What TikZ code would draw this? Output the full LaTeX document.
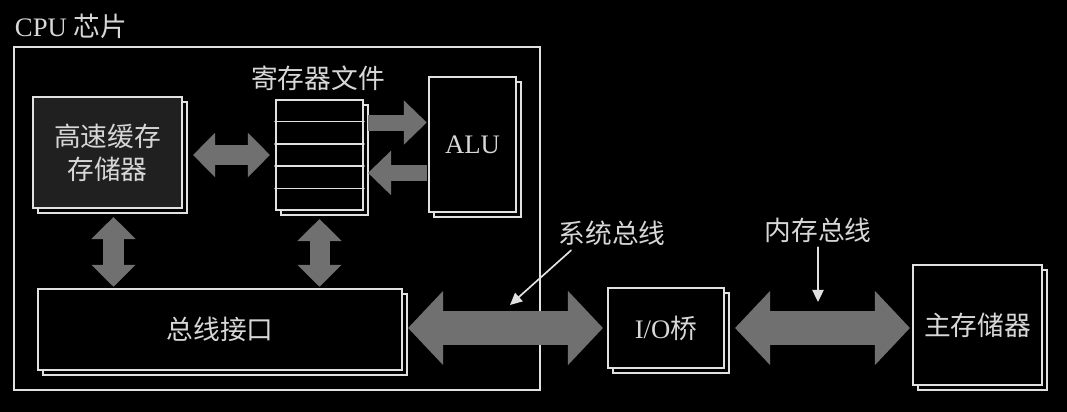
\documentclass[tikz,border=0pt]{standalone}
\usepackage{fontspec}
\setmainfont{Liberation Serif}
\newfontfamily\cjk{Noto Sans CJK SC}
\usetikzlibrary{calc,arrows.meta,shadows}

\definecolor{edge}{RGB}{225,225,225}
\definecolor{ink}{RGB}{215,215,215}
\definecolor{busgray}{RGB}{112,112,112}
\definecolor{cachefill}{RGB}{32,32,32}

\begin{document}
\begin{tikzpicture}[x=0.025cm,y=-0.025cm,line cap=round,
	every node/.style={font=\fontsize{19}{23.5}\selectfont,text=ink}]
	\tikzstyle{unit}=[draw=edge,line width=1.4pt,fill=black,inner sep=0pt,
		general shadow={shadow xshift=0.12cm,shadow yshift=-0.12cm,draw=edge,line width=1.4pt,fill=black}];
	\tikzstyle{cjktext}=[font=\fontsize{19}{23.5}\selectfont\cjk];
	\tikzstyle{fatsmall}=[draw=busgray,line cap=butt,line width=0.5cm,
		arrows={Triangle[length=0.55cm,width=1.075cm]-Triangle[length=0.55cm,width=1.075cm]}];
	\tikzstyle{fatone}=[draw=busgray,line cap=butt,line width=0.4cm,
		arrows={-Triangle[length=0.575cm,width=1.075cm]}];
	\tikzstyle{fatbus}=[draw=busgray,line cap=butt,line width=0.825cm,
		arrows={Triangle[length=0.875cm,width=1.8cm]-Triangle[length=0.875cm,width=1.8cm]}];
	\tikzstyle{pointer}=[draw=edge,line width=1.2pt,-{Triangle[length=0.3cm,width=0.28cm]}];

	\useasboundingbox (0,0) rectangle (1067,412);
	\fill[black] (0,0) rectangle (1067,412);

	% CPU chip
	\node[draw=edge,line width=1.4pt,minimum width=13.15cm,minimum height=8.575cm] (chip) at (277,218.5) {};
	\node[anchor=west] (chiptitle) at (10,26) {CPU {\cjk 芯片}};

	\node[unit,fill=cachefill,cjktext,minimum width=3.725cm,minimum height=2.775cm,align=center] (cache) at (107.5,152.5) {高速缓存\\存储器};
	\node[unit,minimum width=2.175cm,minimum height=2.75cm] (reg) at (319.5,155) {};
	\foreach \k in {1,...,4}
		\draw[draw=edge,line width=1.2pt] ($(reg.north west)!\k/5!(reg.south west)$) -- ($(reg.north east)!\k/5!(reg.south east)$);
	\node[cjktext] (reglabel) at (318,78) {寄存器文件};
	\node[unit,minimum width=2.175cm,minimum height=3.375cm] (alu) at (472.5,144.5) {ALU};
	\node[unit,cjktext,minimum width=9.1cm,minimum height=2.025cm] (bif) at (220,329.5) {总线接口};

	% outside the chip
	\node[unit,minimum width=2.9cm,minimum height=2cm] (iob) at (666,328) {I/O{\cjk 桥}};
	\node[unit,cjktext,minimum width=3.225cm,minimum height=3cm] (mem) at (977.5,325) {主存储器};

	% buses inside the chip
	\draw[fatsmall,shorten <=0.25cm,shorten >=0.125cm] (cache.east |- reg.west) -- (reg.west);
	\coordinate (toalu) at ($(reg.north east)!0.21!(reg.south east)$);
	\coordinate (fromalu) at ($(reg.north east)!0.66!(reg.south east)$);
	\draw[fatone,shorten <=0.1cm,shorten >=0.03cm] (toalu) -- (toalu -| alu.west);
	\draw[fatone,shorten <=0.03cm,shorten >=0.1cm] (fromalu -| alu.west) -- (fromalu);
	\coordinate (cachedown) at ($(cache.south)+(6,0)$);
	\draw[fatsmall,shorten <=0.2cm,shorten >=0.03cm] (cachedown) -- (cachedown |- bif.north);
	\draw[fatsmall,shorten <=0.2cm,shorten >=0.03cm] (reg.south) -- (reg.south |- bif.north);

	% system bus and memory bus
	\draw[fatbus,shorten <=0.125cm,shorten >=0.1cm] (bif.east |- iob.west) -- (iob.west);
	\draw[fatbus,shorten <=0.25cm,shorten >=0.05cm] (iob.east) -- (iob.east -| mem.west);

	\node[cjktext] (sysbus) at (612,233) {系统总线};
	\coordinate (sysbustip) at (510,305);
	\draw[pointer] ($(sysbus.south west)!0.15!(sysbus.south east)$) -- (sysbustip);
	\node[cjktext] (membus) at (818,230) {内存总线};
	\coordinate (membustip) at (818,302);
	\draw[pointer] (membus.south) -- (membustip);
\end{tikzpicture}
\end{document}
